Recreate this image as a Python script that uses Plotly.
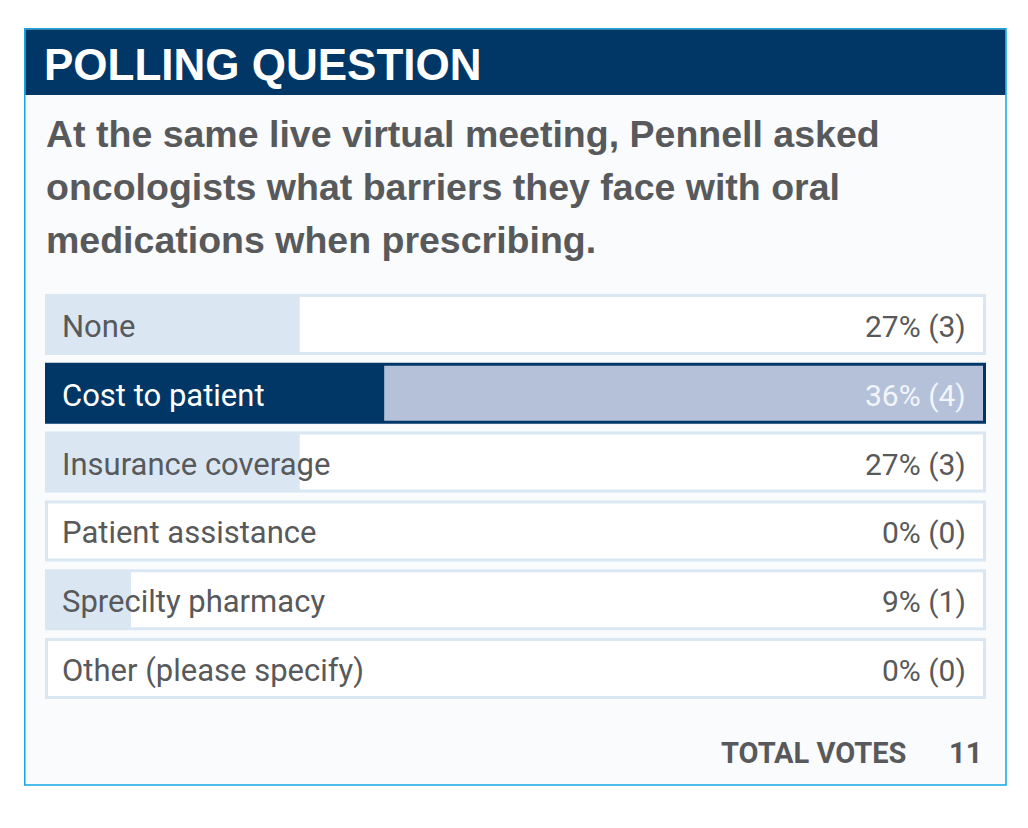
import plotly.graph_objects as go

# page body has an 8px margin; the figure is sized to fit inside the window
OFF = 8
W, H = 1012, 812

# ---- data ----
categories = ["None", "Cost to patient", "Insurance coverage",
              "Patient assistance", "Sprecilty pharmacy", "Other (please specify)"]
percents = [27, 36, 27, 0, 9, 0]
votes = [3, 4, 3, 0, 1, 0]
selected = "Cost to patient"
total_votes = 11
header_text = "POLLING QUESTION"
question_lines = ["At the same live virtual meeting, Pennell asked",
                  "oncologists what barriers they face with oral",
                  "medications when prescribing."]
total_label = "TOTAL VOTES"

# ---- styles ----
NAVY = "#003767"
LIGHT = "#dae7f3"
SEL_TRACK = "#b4c1d8"
GRAY = "#58595b"
FRAME = "#14a6e2"
BG = "#f9fbfd"


def px(x):
    return (x - OFF) / W


def py(y):
    return 1 - (y - OFF) / H


is_sel = [c == selected for c in categories]

track = go.Bar(
    y=categories, x=[100] * len(categories), orientation="h",
    marker=dict(color=[SEL_TRACK if s else "white" for s in is_sel],
                line=dict(color=[NAVY if s else LIGHT for s in is_sel], width=3)),
    hoverinfo="skip",
)
fill = go.Bar(
    y=categories, x=percents, orientation="h",
    marker=dict(color=[NAVY if s else LIGHT for s in is_sel], line=dict(width=0)),
    hoverinfo="skip",
)

fig = go.Figure([track, fill])

shapes = [
    dict(type="rect", xref="paper", yref="paper", x0=px(24.75), x1=px(1006),
         y0=py(28.75), y1=py(785), line=dict(color=FRAME, width=1.5),
         fillcolor=BG, layer="below"),
    dict(type="rect", xref="paper", yref="paper", x0=px(25.5), x1=px(1005.25),
         y0=py(29.5), y1=py(95), line=dict(width=0),
         fillcolor=NAVY, layer="below"),
]

annotations = [
    dict(text=header_text, xref="paper", yref="paper", x=px(42), y=py(64),
         xanchor="left", yanchor="middle", showarrow=False,
         font=dict(family="Liberation Sans", size=44, color="white", weight="bold")),
]
q_centers = [133.7, 187, 240]
for line, yc in zip(question_lines, q_centers):
    annotations.append(dict(
        text=line, xref="paper", yref="paper", x=px(44), y=py(yc),
        xanchor="left", yanchor="middle", showarrow=False,
        font=dict(family="Liberation Sans", size=37.5, color=GRAY, weight="bold")))

for c, p, v, s in zip(categories, percents, votes, is_sel):
    col = "white" if s else GRAY
    annotations.append(dict(
        text=c, xref="paper", yref="y", x=px(60), y=c, yshift=-2,
        xanchor="left", yanchor="middle", showarrow=False,
        font=dict(family="Roboto", size=31, color=col)))
    annotations.append(dict(
        text=f"{p}% ({v})", xref="paper", yref="y", x=px(968), y=c, yshift=-2,
        xanchor="right", yanchor="middle", showarrow=False,
        font=dict(family="Roboto", size=30, color="#f2f5fa" if s else GRAY)))

annotations.append(dict(
    text=total_label, xref="paper", yref="paper", x=px(908), y=py(753),
    xanchor="right", yanchor="middle", showarrow=False,
    font=dict(family="Roboto", size=29, color=GRAY, weight="bold")))
annotations.append(dict(
    text=str(total_votes), xref="paper", yref="paper", x=px(984), y=py(753),
    xanchor="right", yanchor="middle", showarrow=False,
    font=dict(family="Roboto", size=29, color=GRAY, weight="bold")))

fig.update_layout(
    width=W, height=H,
    margin=dict(l=0, r=0, t=0, b=0),
    paper_bgcolor="white", plot_bgcolor="rgba(0,0,0,0)",
    barmode="overlay", bargap=0.157,
    showlegend=False,
    xaxis=dict(domain=[px(45), px(986)], range=[-0.16, 100.16], visible=False,
               fixedrange=True),
    yaxis=dict(domain=[py(702.9), py(290.1)], autorange="reversed",
               visible=False, fixedrange=True),
    shapes=shapes, annotations=annotations,
)

fig.write_html("out.html", config={"displayModeBar": False})
